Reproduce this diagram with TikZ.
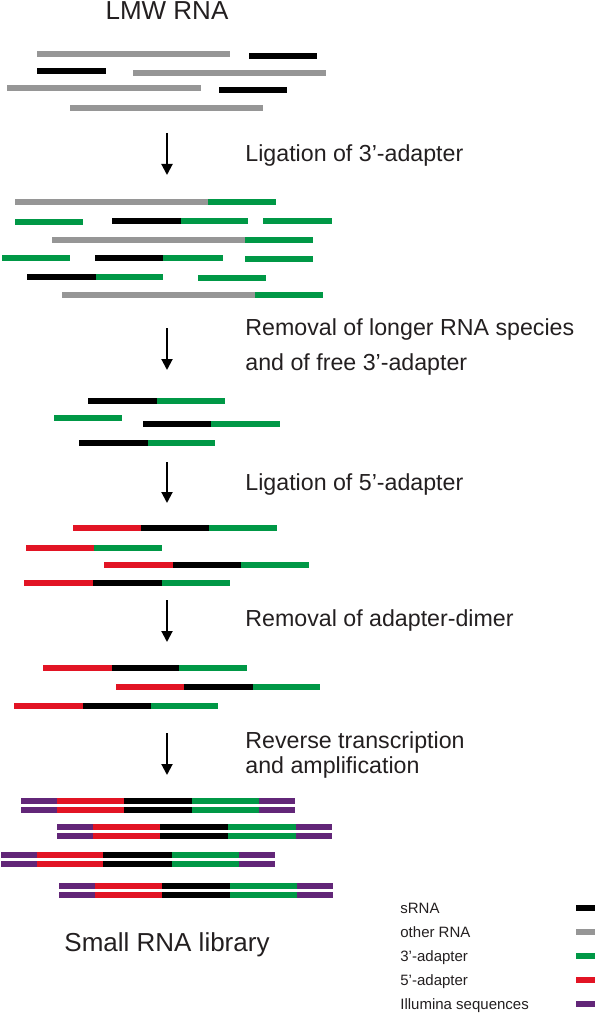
\documentclass[tikz,border=0pt]{standalone}
\usepackage{fontspec}
\setmainfont{Liberation Sans}
\usetikzlibrary{arrows.meta}
\definecolor{othergray}{RGB}{150,150,150}
\definecolor{adgreen}{RGB}{0,152,70}
\definecolor{adred}{RGB}{226,20,36}
\definecolor{illupurple}{RGB}{98,38,120}
\definecolor{txtgray}{RGB}{35,31,32}
\begin{document}
\begin{tikzpicture}[>={Triangle[length=5.5pt,width=5.5pt]},x=0.5pt,y=-0.5pt,
	seg/.style={line width=2.7pt},
	srna/.style={seg,draw=black},
	other/.style={seg,draw=othergray},
	ad3/.style={seg,draw=adgreen},
	ad5/.style={seg,draw=adred},
	illu/.style={seg,draw=illupurple},
	head/.style={text=txtgray,inner sep=0pt,anchor=base,font=\fontsize{13}{15}\selectfont},
	steplabel/.style={text=txtgray,inner sep=0pt,anchor=base west,align=left,font=\fontsize{11.6}{12.5}\selectfont},
	keytext/.style={text=txtgray,inner sep=0pt,anchor=base west,font=\fontsize{7.5}{9}\selectfont}]
	\useasboundingbox (0,0) rectangle (597,1016);
	
	\node[head] (lmw) at (167,20) {LMW RNA};
	% LMW RNA
	\draw[other] (37,54) -- (230,54);  \draw[srna] (249,56) -- (317,56);
	\draw[srna] (37,71) -- (106,71);   \draw[other] (133,73) -- (326,73);
	\draw[other] (7,88) -- (201,88);   \draw[srna] (219,90) -- (287,90);
	\draw[other] (70,108) -- (263,108);
	
	\coordinate (a1s) at (167,133);
	\coordinate (a1e) at (167,175);
	\draw[->,line width=1pt] (a1s) -- (a1e);
	\node[steplabel] (lig3) at (245,162) {Ligation of 3'-adapter};
	
	% after 3'-ligation
	\draw[other] (15,202) -- (208,202); \draw[ad3] (208,202) -- (276,202);
	\draw[ad3] (15,222) -- (83,222);
	\draw[srna] (112,221) -- (181,221); \draw[ad3] (181,221) -- (248,221);
	\draw[ad3] (263,221) -- (332,221);
	\draw[other] (52,240) -- (245,240); \draw[ad3] (245,240) -- (313,240);
	\draw[ad3] (2,258) -- (70,258);
	\draw[srna] (95,258) -- (163,258); \draw[ad3] (163,258) -- (223,258);
	\draw[ad3] (245,259) -- (313,259);
	\draw[srna] (27,277) -- (96,277); \draw[ad3] (96,277) -- (163,277);
	\draw[ad3] (198,278) -- (266,278);
	\draw[other] (62,295) -- (255,295); \draw[ad3] (255,295) -- (323,295);
	
	\coordinate (a2s) at (167,328);
	\coordinate (a2e) at (167,370);
	\draw[->,line width=1pt] (a2s) -- (a2e);
	\node[steplabel] (remlong) at (245,370) {Removal of longer RNA species\\[5pt]and of free 3'-adapter};
	
	% size selection
	\draw[srna] (88,401) -- (157,401); \draw[ad3] (157,401) -- (225,401);
	\draw[ad3] (54,418) -- (122,418);
	\draw[srna] (143,424) -- (211,424); \draw[ad3] (211,424) -- (280,424);
	\draw[srna] (79,443) -- (148,443); \draw[ad3] (148,443) -- (215,443);
	
	\coordinate (a3s) at (167,462);
	\coordinate (a3e) at (167,503);
	\draw[->,line width=1pt] (a3s) -- (a3e);
	\node[steplabel] (lig5) at (245,490) {Ligation of 5'-adapter};
	
	% after 5'-ligation
	\draw[ad5] (73,528) -- (141,528); \draw[srna] (141,528) -- (209,528); \draw[ad3] (209,528) -- (277,528);
	\draw[ad5] (26,548) -- (94,548); \draw[ad3] (94,548) -- (162,548);
	\draw[ad5] (104,565) -- (173,565); \draw[srna] (173,565) -- (241,565); \draw[ad3] (241,565) -- (309,565);
	\draw[ad5] (24,583) -- (93,583); \draw[srna] (93,583) -- (162,583); \draw[ad3] (162,583) -- (230,583);
	
	\coordinate (a4s) at (167,600);
	\coordinate (a4e) at (167,642);
	\draw[->,line width=1pt] (a4s) -- (a4e);
	\node[steplabel] (remdim) at (245,626) {Removal of adapter-dimer};
	
	% ligated sRNA
	\draw[ad5] (43,668) -- (112,668); \draw[srna] (112,668) -- (179,668); \draw[ad3] (179,668) -- (247,668);
	\draw[ad5] (116,687) -- (184,687); \draw[srna] (184,687) -- (253,687); \draw[ad3] (253,687) -- (320,687);
	\draw[ad5] (14,706) -- (83,706); \draw[srna] (83,706) -- (151,706); \draw[ad3] (151,706) -- (218,706);
	
	\coordinate (a5s) at (167,733);
	\coordinate (a5e) at (167,775);
	\draw[->,line width=1pt] (a5s) -- (a5e);
	\node[steplabel] (rtpcr) at (245,773) {Reverse transcription\\and amplification};
	
	% library, double strands
	\draw[illu] (21,801) -- (57,801); \draw[ad5] (57,801) -- (124,801); \draw[srna] (124,801) -- (192,801); \draw[ad3] (192,801) -- (259,801); \draw[illu] (259,801) -- (295,801);
	\draw[illu] (21,810) -- (57,810); \draw[ad5] (57,810) -- (124,810); \draw[srna] (124,810) -- (192,810); \draw[ad3] (192,810) -- (259,810); \draw[illu] (259,810) -- (295,810);
	\draw[illu] (57,827) -- (93,827); \draw[ad5] (93,827) -- (160,827); \draw[srna] (160,827) -- (228,827); \draw[ad3] (228,827) -- (296,827); \draw[illu] (296,827) -- (332,827);
	\draw[illu] (57,836) -- (93,836); \draw[ad5] (93,836) -- (160,836); \draw[srna] (160,836) -- (228,836); \draw[ad3] (228,836) -- (296,836); \draw[illu] (296,836) -- (332,836);
	\draw[illu] (1,855) -- (37,855); \draw[ad5] (37,855) -- (103,855); \draw[srna] (103,855) -- (172,855); \draw[ad3] (172,855) -- (239,855); \draw[illu] (239,855) -- (275,855);
	\draw[illu] (1,864) -- (37,864); \draw[ad5] (37,864) -- (103,864); \draw[srna] (103,864) -- (172,864); \draw[ad3] (172,864) -- (239,864); \draw[illu] (239,864) -- (275,864);
	\draw[illu] (59,886) -- (95,886); \draw[ad5] (95,886) -- (162,886); \draw[srna] (162,886) -- (230,886); \draw[ad3] (230,886) -- (297,886); \draw[illu] (297,886) -- (333,886);
	\draw[illu] (59,895) -- (95,895); \draw[ad5] (95,895) -- (162,895); \draw[srna] (162,895) -- (230,895); \draw[ad3] (230,895) -- (297,895); \draw[illu] (297,895) -- (333,895);
	
	\node[head] (lib) at (167,951) {Small RNA library};
	
	% key
	\node[keytext] (keysrna) at (400,913) {sRNA};
	\node[keytext] (keyother) at (400,937) {other RNA};
	\node[keytext] (keyad3) at (400,961) {3'-adapter};
	\node[keytext] (keyad5) at (400,985) {5'-adapter};
	\node[keytext] (keyillu) at (400,1009) {Illumina sequences};
	\draw[srna] (576,908) -- (595,908);
	\draw[other] (576,932) -- (595,932);
	\draw[ad3] (576,956) -- (595,956);
	\draw[ad5] (576,980) -- (595,980);
	\draw[illu] (576,1004) -- (595,1004);
\end{tikzpicture}
\end{document}
